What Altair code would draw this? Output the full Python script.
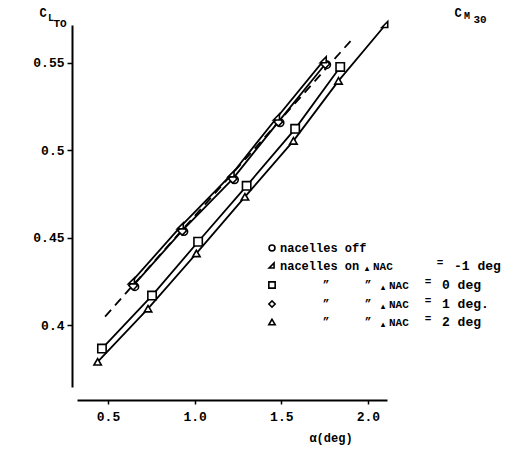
import altair as alt
import pandas as pd

# ---- data ----
alpha_off = [0.655, 0.938, 1.230, 1.493, 1.762]
cl_off = [0.4220, 0.4535, 0.4832, 0.5158, 0.5490]
alpha_on = [0.638, 0.920, 1.213, 1.475, 1.745]
cl_on = [0.4250, 0.4565, 0.4862, 0.5188, 0.5515]
alpha_nac0 = [0.465, 0.754, 1.020, 1.300, 1.580, 1.840]
cl_nac0 = [0.3866, 0.4169, 0.4477, 0.4797, 0.5123, 0.5477]
alpha_nac1 = [0.645, 0.928, 1.220, 1.483, 1.754]
cl_nac1 = [0.4226, 0.4540, 0.4837, 0.5163, 0.5494]
alpha_nac2 = [0.440, 0.731, 1.010, 1.290, 1.570, 1.830]
cl_nac2 = [0.3790, 0.4094, 0.4410, 0.4734, 0.5054, 0.5397]

# fitted curves
fit_off_alpha = [0.483, 1.910]
fit_off_cl = [0.4049, 0.5637]
fit_nac2_alpha = [0.440, 0.731, 1.010, 1.290, 1.570, 1.830, 2.100]
fit_nac2_cl = [0.3790, 0.4094, 0.4410, 0.4734, 0.5054, 0.5397, 0.5717]
end_alpha = [2.100]
end_cl = [0.5717]

x_ticks = [0.5, 1.0, 1.5, 2.0]
y_ticks = [0.4, 0.45, 0.5, 0.55]
x_domain = [0.321, 2.11]
y_domain = [0.3646, 0.5717]

legend_values = ["-1 deg", "0 deg", "1 deg.", "2 deg"]

ON_SHAPE = "M -1 0.7 L 0.7 -1 L 0.7 0.7 Z"
MONO = "Liberation Mono"

xs = alt.Scale(domain=x_domain, nice=False, zero=False)
ys = alt.Scale(domain=y_domain, nice=False, zero=False)

x_axis = alt.Axis(
    values=x_ticks, format=".1f", title=None, grid=False, offset=13,
    domainColor="black", domainWidth=2, tickColor="black", tickWidth=1.5,
    tickSize=4, labelFont=MONO, labelFontWeight="bold", labelFontSize=13,
    labelColor="black", labelPadding=6)
y_axis = alt.Axis(
    values=y_ticks, format="~g", title=None, grid=False, offset=5,
    domainColor="black", domainWidth=2, tickColor="black", tickWidth=1.5,
    tickSize=5, labelFont=MONO, labelFontWeight="bold", labelFontSize=13,
    labelColor="black", labelPadding=3)

def df(a, c):
    return pd.DataFrame({"alpha": a, "cl": c})

def enc():
    return dict(
        x=alt.X("alpha:Q", scale=xs, axis=x_axis),
        y=alt.Y("cl:Q", scale=ys, axis=y_axis),
    )

def line(a, c, dash=None):
    kw = dict(color="black", strokeWidth=1.8, clip=False)
    if dash:
        kw["strokeDash"] = dash
    return alt.Chart(df(a, c)).mark_line(**kw).encode(**enc())

def pts(a, c, shape, size):
    return alt.Chart(df(a, c)).mark_point(
        shape=shape, size=size, filled=True, fill="white",
        stroke="black", strokeWidth=1.6, opacity=1, clip=False
    ).encode(**enc())

def txt(t, x, y, size=12, align="left", baseline="middle", font=MONO):
    return alt.Chart(pd.DataFrame({"k": [0]})).mark_text(
        text=t, align=align, baseline=baseline, font=font, fontSize=size,
        fontWeight="bold", color="black"
    ).encode(x=alt.value(x), y=alt.value(y))

def sym(shape, x, y, size=45):
    return alt.Chart(pd.DataFrame({"k": [0]})).mark_point(
        shape=shape, size=size, filled=True, fill="white", stroke="black",
        strokeWidth=1.6, opacity=1
    ).encode(x=alt.value(x), y=alt.value(y))

# plot origin at page (77,25); pixel annotations relative to it
ox, oy = 77, 25
def P(x, y):
    return x - ox, y - oy

layers = [
    line(fit_off_alpha, fit_off_cl, dash=[9, 6]),
    line(alpha_nac1, cl_nac1),
    line(alpha_on, cl_on),
    line(alpha_nac0, cl_nac0),
    line(fit_nac2_alpha, fit_nac2_cl),
    pts(alpha_off, cl_off, "circle", 55),
    pts(alpha_nac1, cl_nac1, "diamond", 75),
    pts(alpha_on, cl_on, ON_SHAPE, 50),
    pts(alpha_nac0, cl_nac0, "square", 70),
    pts(alpha_nac2, cl_nac2, "triangle-up", 55),
    pts(end_alpha, end_cl, ON_SHAPE, 50),
]

# axis titles
layers += [
    txt("C", *P(43, 13), size=12, align="center"),
    txt("L", *P(51, 18), size=10, align="center"),
    txt("TO", *P(60, 24), size=11, align="center"),
    txt("C", *P(458, 13), size=12, align="center"),
    txt("M", *P(467, 16), size=10, align="center"),
    txt("30", *P(480, 20), size=11, align="center"),
    txt("\u03b1(deg)", *P(331, 438), size=12, align="center"),
]

# in-plot legend
rows = [248, 266, 285, 304, 322]
layers += [
    sym("circle", *P(272, rows[0]), 35),
    txt("nacelles off", *P(280, rows[0])),
    sym(ON_SHAPE, *P(272, rows[1]), 35),
    txt("nacelles on", *P(280, rows[1])),
    txt("\u25b4", *P(367, rows[1] + 2), size=9, align="center", font="DejaVu Sans"),
    txt("NAC", *P(373, rows[1] + 1), size=11),
    txt("=", *P(440, rows[1] - 3), size=11, align="center"),
    txt(legend_values[0], *P(454, rows[1]), size=13),
]
shapes = ["square", "diamond", "triangle-up"]
for r, val, shp in zip(rows[2:], legend_values[1:], shapes):
    layers += [
        sym(shp, *P(272, r), 40),
        txt("\u201d", *P(326, r), size=11, align="center"),
        txt("\u201d", *P(368, r), size=11, align="center"),
        txt("\u25b4", *P(383, r + 2), size=9, align="center", font="DejaVu Sans"),
        txt("NAC", *P(389, r + 1), size=11),
        txt("=", *P(428, r - 3), size=11, align="center"),
        txt(val, *P(442, r), size=13),
    ]

chart = alt.layer(*layers).properties(
    width=310, height=362, background="white",
    autosize=alt.AutoSizeParams(type="none"),
    padding={"left": ox - 8, "top": oy - 8, "right": 130, "bottom": 61},
).configure_view(stroke=None)

chart.save("out.html", embed_options={"renderer": "svg", "actions": False})
